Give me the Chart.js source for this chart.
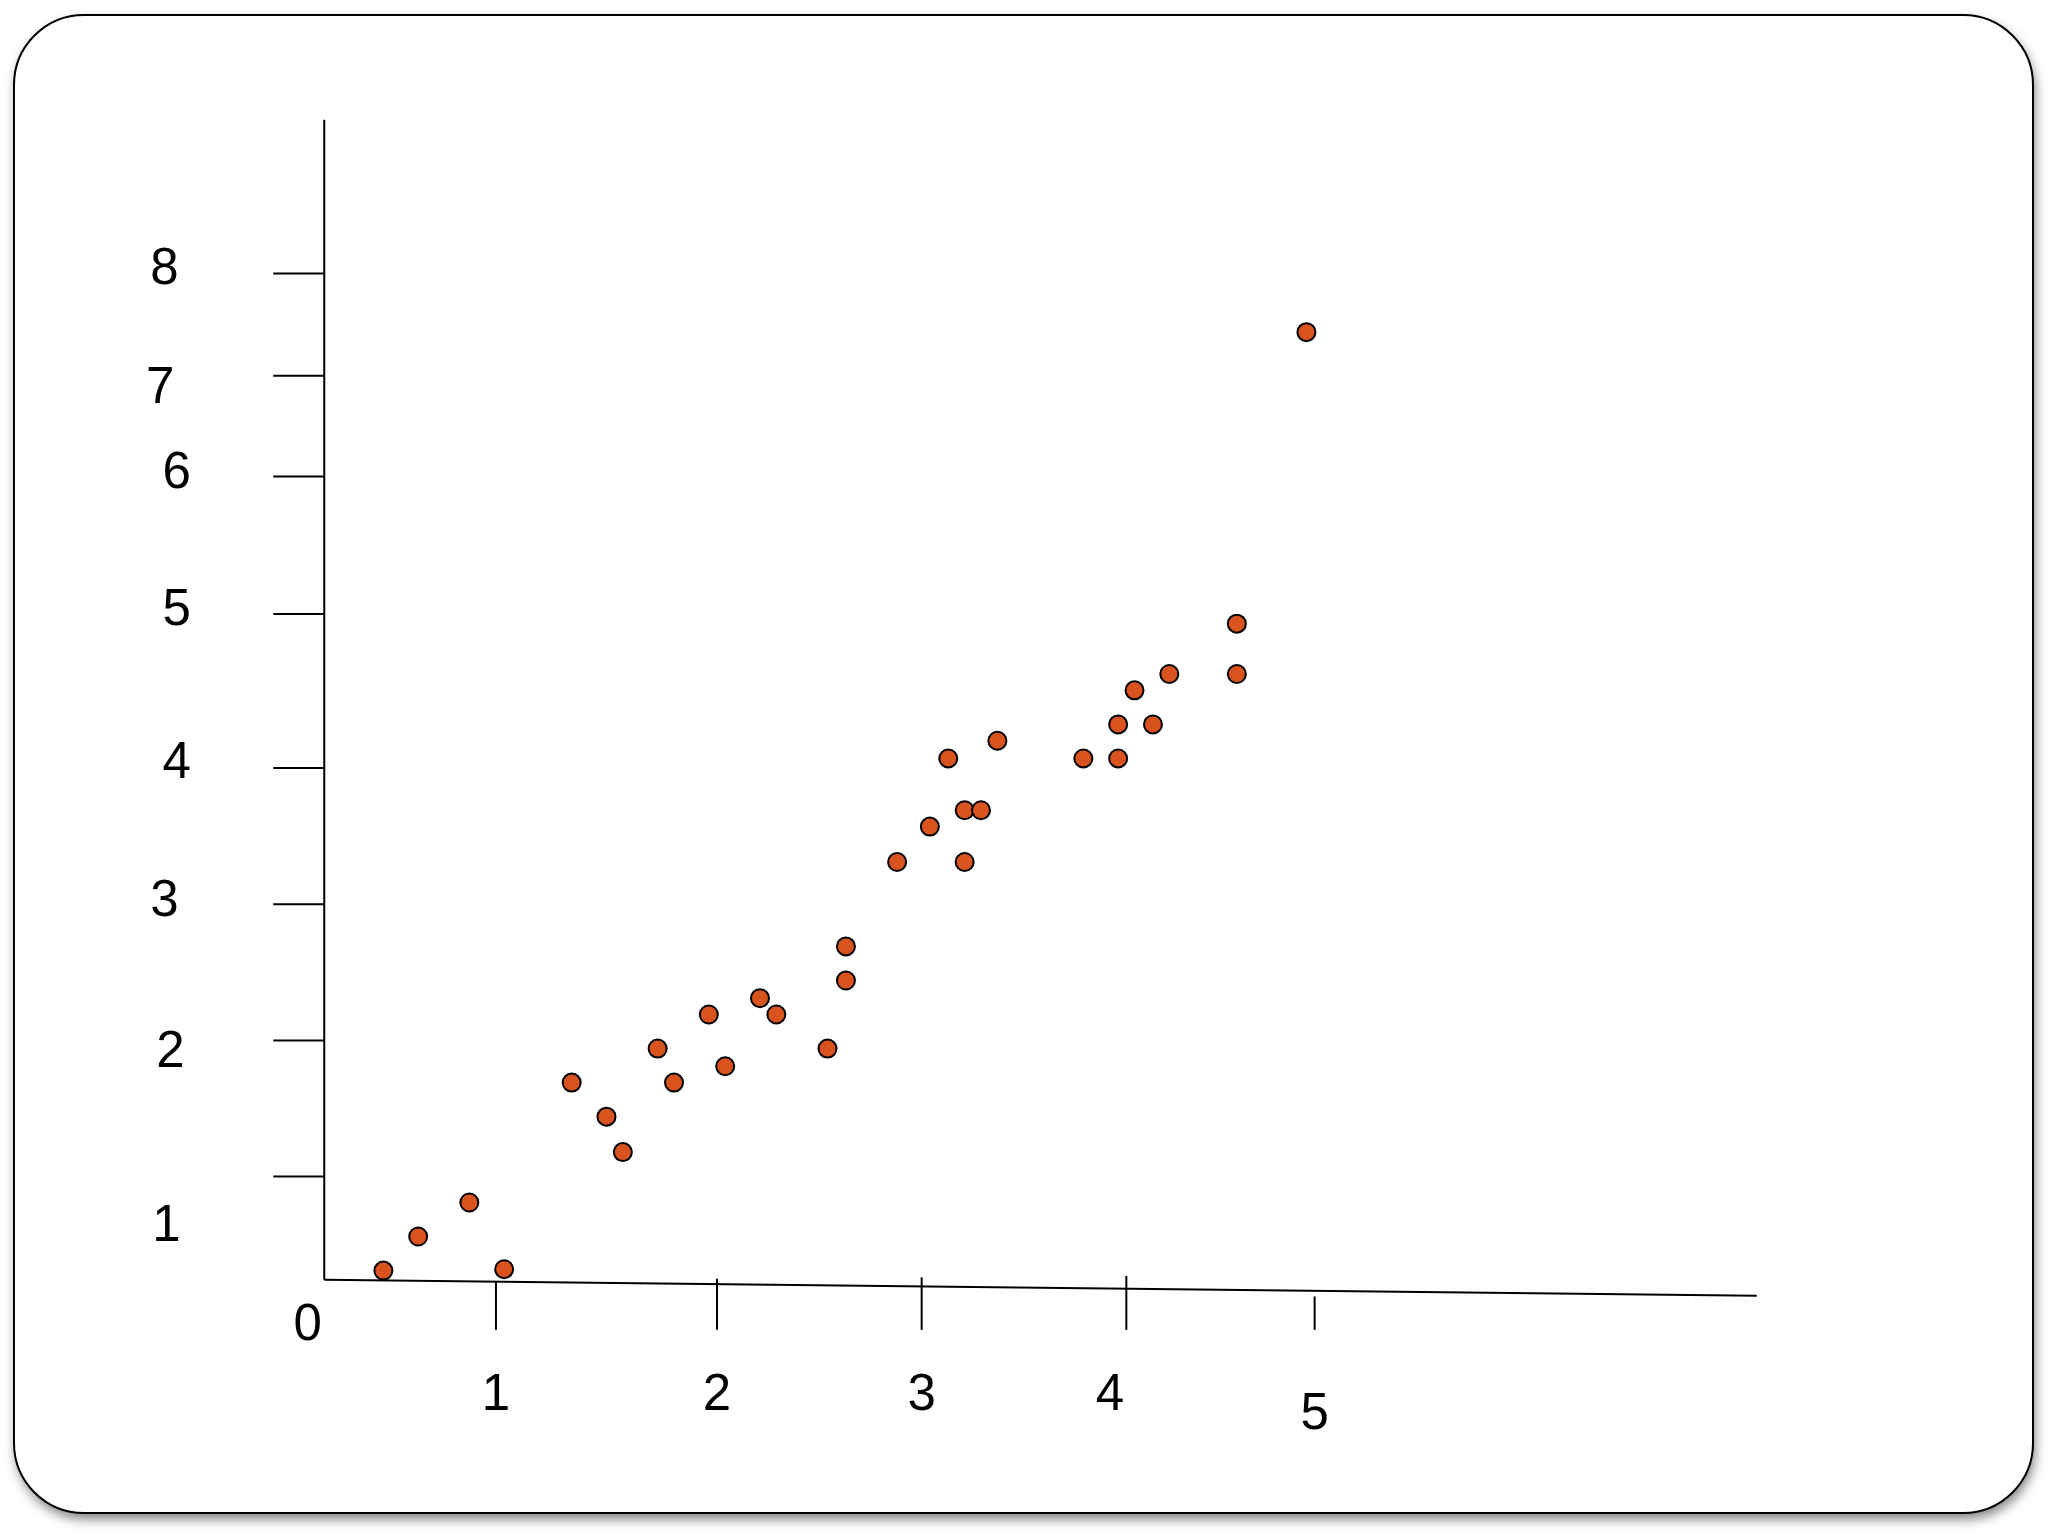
<!DOCTYPE html>
<html>
<head>
<meta charset="utf-8">
<script src="https://cdn.jsdelivr.net/npm/chart.js@4.4.0/dist/chart.umd.min.js"></script>
<style>
  html, body { margin: 0; padding: 0; background: #fff; }
  canvas { display: block; }
</style>
</head>
<body>
<canvas id="scatter" width="2048" height="1536"></canvas>
<script>
// data (axis units of the drawing)
const xValues = [0.37, 0.54, 0.79, 0.96, 1.29, 1.46, 1.54, 1.71, 1.79, 1.96, 2.04, 2.21, 2.29, 2.54, 2.63, 2.63,
  2.88, 3.04, 3.13, 3.21, 3.29, 3.21, 3.37, 3.79, 3.96, 3.96, 4.04, 4.13, 4.21, 4.54, 4.54, 4.88];
const yValues = [0.31, 0.56, 0.81, 0.32, 1.69, 1.44, 1.18, 1.94, 1.69, 2.19, 1.81, 2.31, 2.19, 1.94, 2.44, 2.69,
  3.31, 3.57, 4.07, 3.69, 3.69, 3.31, 4.2, 4.07, 4.07, 4.32, 4.57, 4.32, 4.69, 4.69, 5.06, 7.2];

// hand drawn axes: ticks are not evenly spaced
const xTickLabels = ['1', '2', '3', '4', '5'];
const xTickAt = [0.92, 2.0, 3.0, 4.0, 4.92];
const xTickTop = [0.23, 0.25, 0.26, 0.27, 0.12];
const xLabelAt = [[0.92, -0.61], [2.0, -0.61], [3.0, -0.61], [3.92, -0.61], [4.92, -0.75]];

const yTickLabels = ['1', '2', '3', '4', '5', '6', '7', '8'];
const yTickAt = [1.0, 2.0, 3.0, 4.0, 5.13, 6.14, 6.88, 7.63];
const yLabelAt = [[-0.69, 0.63], [-0.67, 1.91], [-0.70, 3.02], [-0.64, 4.03], [-0.64, 5.15], [-0.64, 6.16], [-0.72, 6.78], [-0.70, 7.66]];

const originLabel = '0';
const originLabelAt = [0, -0.1];

const axisStart = [0.081, 0.242];   // where both axis lines meet
const yAxisTop = 8.76;
const xAxisEnd = [7.08, 0.125];     // x axis drifts down to the right
const yTickLeft = -0.168;
const xTickBottom = -0.125;

const slideFrame = {
  id: 'slideFrame',
  beforeDraw(chart) {
    const ctx = chart.ctx;
    const x = 14, y = 15, w = 2019, h = 1498, r = 70;
    ctx.save();
    ctx.beginPath();
    ctx.roundRect(x, y, w, h, r);
    ctx.shadowColor = 'rgba(0,0,0,0.5)';
    ctx.shadowBlur = 12;
    ctx.shadowOffsetX = 2;
    ctx.shadowOffsetY = 6;
    ctx.fillStyle = '#fff';
    ctx.fill();
    ctx.shadowColor = 'transparent';
    ctx.lineWidth = 2;
    ctx.strokeStyle = '#000';
    ctx.stroke();
    ctx.restore();
  }
};

const handAxes = {
  id: 'handAxes',
  beforeDatasetsDraw(chart) {
    const ctx = chart.ctx;
    const sx = chart.scales.x, sy = chart.scales.y;
    const px = v => sx.getPixelForValue(v);
    const py = v => sy.getPixelForValue(v);
    const line = (x1, y1, x2, y2) => {
      ctx.beginPath();
      ctx.moveTo(px(x1), py(y1));
      ctx.lineTo(px(x2), py(y2));
      ctx.stroke();
    };
    ctx.save();
    ctx.strokeStyle = '#000';
    ctx.lineWidth = 2;
    ctx.lineCap = 'butt';
    line(axisStart[0], axisStart[1], axisStart[0], yAxisTop);
    line(axisStart[0], axisStart[1], xAxisEnd[0], xAxisEnd[1]);
    yTickAt.forEach(v => line(yTickLeft, v, axisStart[0], v));
    xTickAt.forEach((v, i) => line(v, xTickTop[i], v, xTickBottom));

    ctx.fillStyle = '#000';
    ctx.font = '51px "Liberation Sans", Arial, sans-serif';
    ctx.textAlign = 'center';
    ctx.textBaseline = 'middle';
    xTickLabels.forEach((t, i) => ctx.fillText(t, px(xLabelAt[i][0]), py(xLabelAt[i][1])));
    yTickLabels.forEach((t, i) => ctx.fillText(t, px(yLabelAt[i][0]), py(yLabelAt[i][1])));
    ctx.fillText(originLabel, px(originLabelAt[0]), py(originLabelAt[1]));
    ctx.restore();
  }
};

new Chart(document.getElementById('scatter'), {
  type: 'scatter',
  data: {
    datasets: [{
      data: xValues.map((x, i) => ({ x: x, y: yValues[i] })),
      backgroundColor: '#d9531e',
      borderColor: '#000',
      borderWidth: 2,
      pointRadius: 9,
      pointHoverRadius: 9
    }]
  },
  options: {
    responsive: false,
    animation: false,
    layout: { padding: { left: 103, right: 103, top: 87, bottom: 87 } },
    plugins: { legend: { display: false }, tooltip: { enabled: false } },
    scales: {
      x: { type: 'linear', min: -1, max: 8, display: false },
      y: { type: 'linear', min: -1, max: 9, display: false }
    }
  },
  plugins: [slideFrame, handAxes]
});
</script>
</body>
</html>
